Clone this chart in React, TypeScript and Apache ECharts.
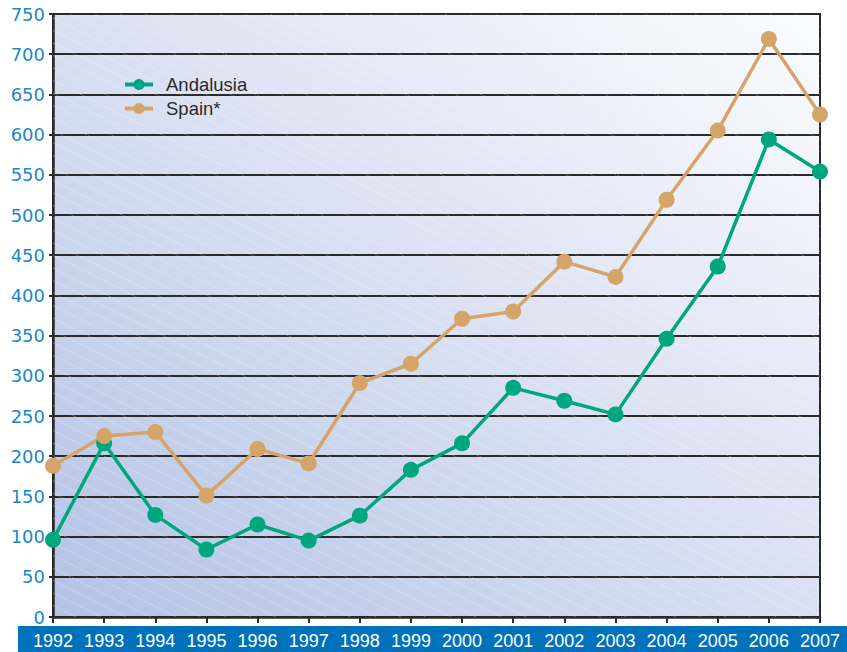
import React, { useEffect, useRef } from "react";
import * as echarts from "echarts";

const years = ["1992","1993","1994","1995","1996","1997","1998","1999","2000","2001","2002","2003","2004","2005","2006","2007"];
const andalusia = [96, 216, 127, 84, 115, 95, 126, 183, 216, 285, 269, 252, 346, 436, 594, 554];
const spain = [188, 225, 230, 151, 209, 191, 291, 315, 371, 380, 442, 423, 519, 605, 719, 625];
const seriesNames = ["Andalusia", "Spain*"];
const seriesColors = ["#00a67e", "#d4a468"];

const W = 847, H = 652;
const GL = 53, GR = 820, GT = 14, GB = 617;

function hatchLines() {
  const els: any[] = [];
  const slope = 0.5;
  const step = 12.5;
  const w = GR - GL, h = GB - GT;
  for (let c = -w * slope; c < h; c += step) {
    const pts: [number, number][] = [];
    const yAt0 = c, yAtW = c + slope * w;
    const xAt0 = -c / slope, xAtH = (h - c) / slope;
    if (yAt0 >= 0 && yAt0 <= h) pts.push([0, yAt0]);
    if (yAtW >= 0 && yAtW <= h) pts.push([w, yAtW]);
    if (xAt0 > 0 && xAt0 < w) pts.push([xAt0, 0]);
    if (xAtH > 0 && xAtH < w) pts.push([xAtH, h]);
    if (pts.length >= 2) {
      els.push({
        type: "line",
        silent: true,
        z: 1,
        shape: { x1: GL + pts[0][0], y1: GT + pts[0][1], x2: GL + pts[1][0], y2: GT + pts[1][1] },
        style: { stroke: "rgba(255,255,255,0.4)", lineWidth: 0.8, lineDash: [2, 1] },
      });
    }
  }
  return els;
}

export default function App() {
  const ref = useRef<HTMLDivElement>(null);
  useEffect(() => {
    document.body.style.margin = "0";
    const chart = echarts.init(ref.current!, null, { renderer: "svg" });
    const mk = (name: string, data: number[], color: string) => ({
      name,
      type: "line",
      data,
      symbol: "circle",
      symbolSize: 16,
      lineStyle: { color, width: 3.5 },
      itemStyle: { color },
      z: 3,
    });
    chart.setOption({
      animation: false,
      backgroundColor: "#ffffff",
      grid: {
        left: GL,
        right: W - GR,
        top: GT,
        bottom: H - GB,
        show: true,
        borderColor: "#2a2a2a",
        borderWidth: 2,
        backgroundColor: new echarts.graphic.LinearGradient(0, 1, 1, 0, [
          { offset: 0, color: "#b3c3e5" },
          { offset: 0.55, color: "#dde3f3" },
          { offset: 1, color: "#fbfcff" },
        ]),
      },
      legend: {
        orient: "vertical",
        left: 118,
        top: 70,
        itemWidth: 28,
        itemHeight: 14,
        itemGap: 5,
        lineStyle: { width: 4 },
        textStyle: { color: "#2a2a2a", fontSize: 18.5, fontFamily: "Liberation Sans", padding: [0, 0, 0, 8] },
        data: seriesNames,
      },
      xAxis: {
        type: "category",
        data: years,
        boundaryGap: false,
        axisLine: { lineStyle: { color: "#2a2a2a", width: 2.5 } },
        axisTick: { show: true, inside: false, length: 6, lineStyle: { color: "#2a2a2a", width: 2 } },
        axisLabel: { color: "#ffffff", fontSize: 18, margin: 15, fontFamily: "Liberation Sans", interval: 0 },
        splitLine: { show: false },
      },
      yAxis: {
        type: "value",
        min: 0,
        max: 750,
        interval: 50,
        axisLine: { show: true, lineStyle: { color: "#2a2a2a", width: 2.5 } },
        axisTick: { show: true, length: 4, lineStyle: { color: "#2a2a2a", width: 2 } },
        axisLabel: { color: "#1b87c9", fontSize: 18, margin: 8, fontFamily: "DejaVu Sans" },
        splitLine: { show: true, lineStyle: { color: "#2a2a2a", width: 2 } },
      },
      graphic: [
        {
          type: "rect",
          silent: true,
          z: -2,
          shape: { x: 18, y: 626, width: W - 18, height: H - 626 },
          style: { fill: "#0071bb" },
        },
        ...hatchLines(),
      ],
      series: [
        mk(seriesNames[0], andalusia, seriesColors[0]),
        mk(seriesNames[1], spain, seriesColors[1]),
      ],
    });
    return () => chart.dispose();
  }, []);
  return <div ref={ref} style={{ position: "fixed", left: 0, top: 0, width: W, height: H }} />;
}
